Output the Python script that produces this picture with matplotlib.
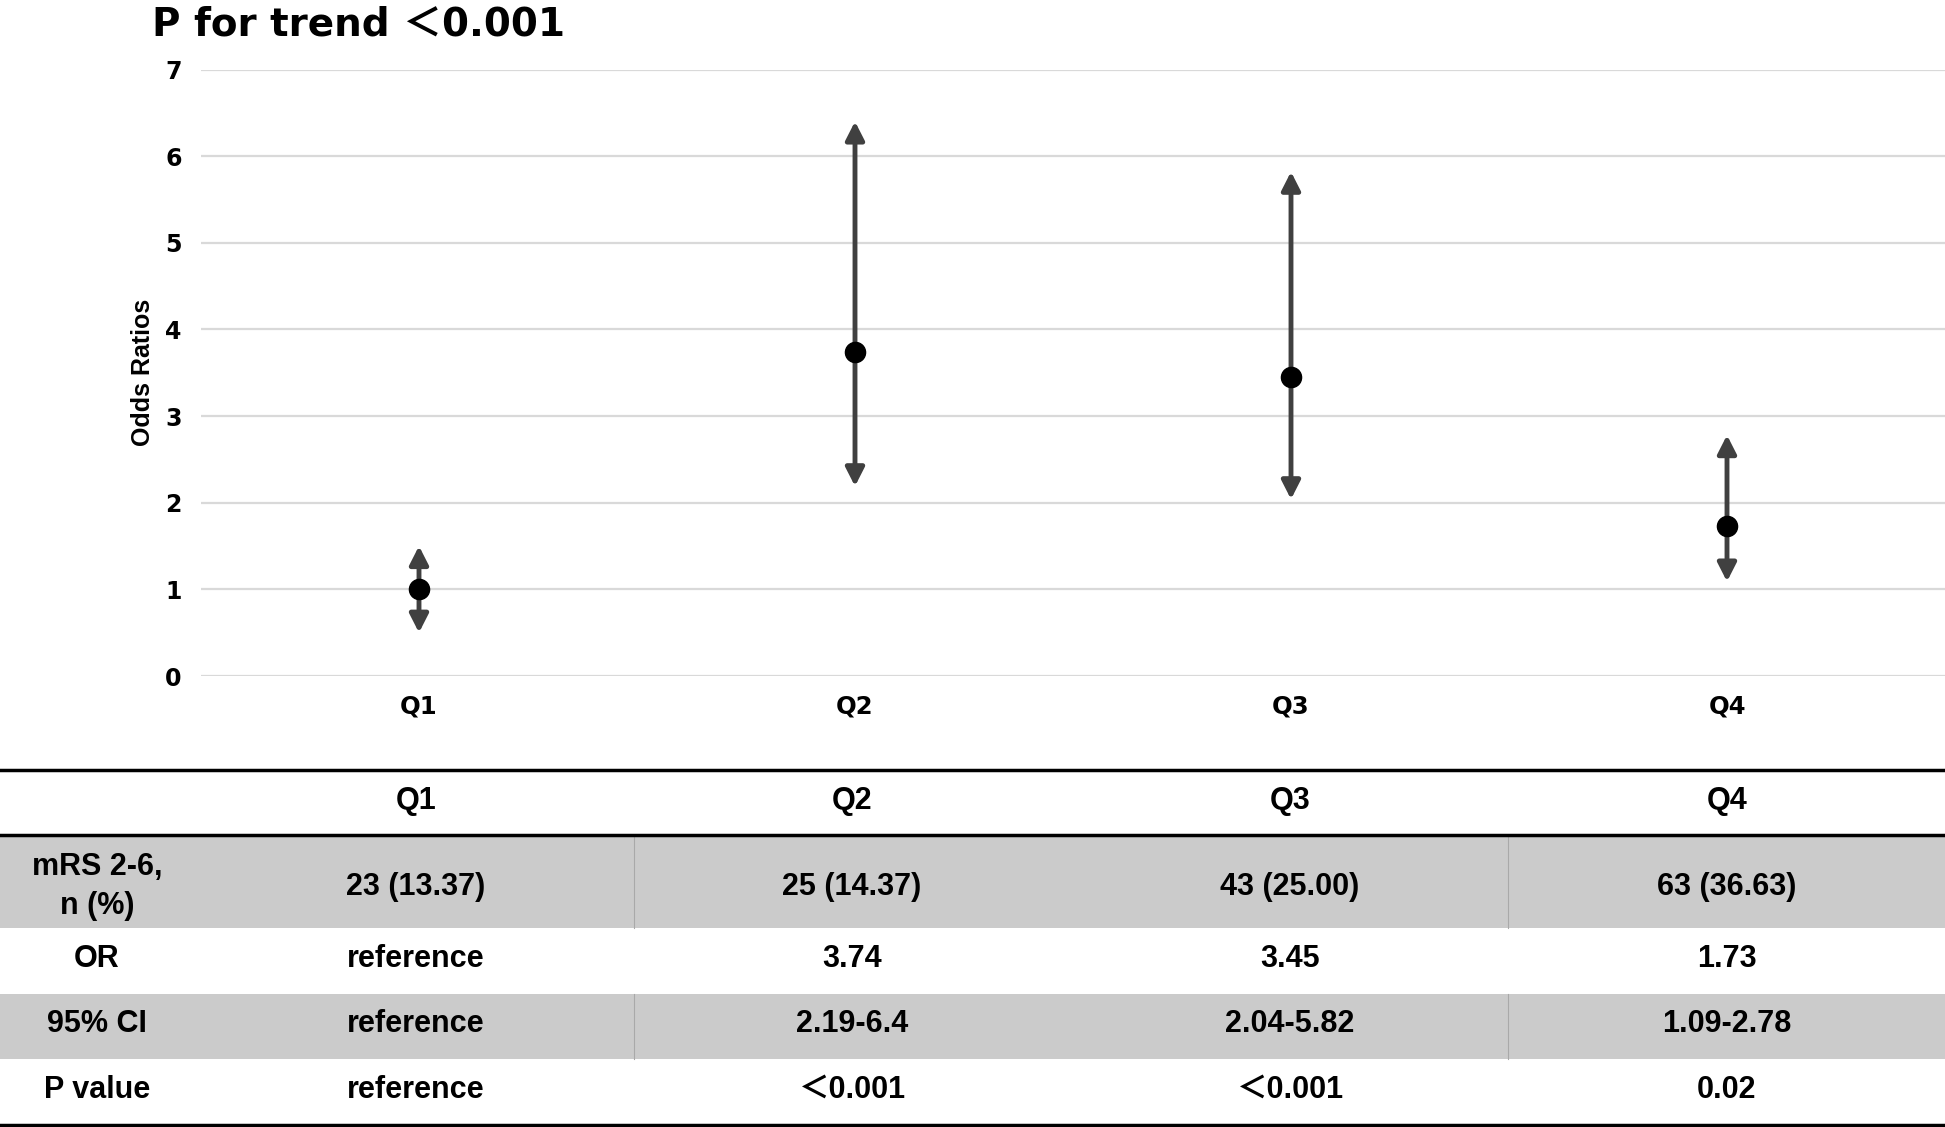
import matplotlib

matplotlib.use("Agg")
import matplotlib.pyplot as plt
from matplotlib.patches import Rectangle

# --- data ---
quartiles = ["Q1", "Q2", "Q3", "Q4"]
or_vals = [1.0, 3.74, 3.45, 1.73]
ci_low = [0.5, 2.19, 2.04, 1.09]
ci_high = [1.5, 6.4, 5.82, 2.78]

row_labels = ["mRS 2-6,\nn (%)", "OR", "95% CI", "P value"]
mrs_n = ["23 (13.37)", "25 (14.37)", "43 (25.00)", "63 (36.63)"]
or_text = ["reference", "3.74", "3.45", "1.73"]
ci_text = ["reference", "2.19-6.4", "2.04-5.82", "1.09-2.78"]
p_text = ["reference", "＜0.001", "＜0.001", "0.02"]

W, H = 1945, 1127
plt.rcParams["font.family"] = ["DejaVu Sans", "Noto Sans CJK SC"]
ARIAL = ["Liberation Sans", "Noto Sans CJK SC", "DejaVu Sans"]

fig = plt.figure(figsize=(W / 100, H / 100), dpi=100)
fig.patch.set_facecolor("white")

# --- OR plot ---
ax = fig.add_axes([201 / W, 1 - 676 / H, 1 - 201 / W, (676 - 69.5) / H])
x = list(range(1, len(quartiles) + 1))
for xi, o, lo, hi in zip(x, or_vals, ci_low, ci_high):
    for end in (lo, hi):
        ax.annotate(
            "",
            xy=(xi, end),
            xytext=(xi, o),
            arrowprops=dict(
                arrowstyle="-|>,head_length=0.55,head_width=0.28",
                color="#404040",
                lw=3.5,
                mutation_scale=20,
                shrinkA=0,
                shrinkB=0,
            ),
            zorder=3,
        )
ax.plot(x, or_vals, "o", color="black", markersize=14.5, linestyle="none", zorder=4)

ax.set_xlim(0.5, 4.5)
ax.set_ylim(0, 7)
ax.set_yticks(range(0, 8))
ax.set_xticks(x)
ax.set_xticklabels(quartiles, fontweight="bold", fontsize=17.5)
ax.set_yticklabels([str(v) for v in range(0, 8)], fontweight="bold", fontsize=17)
ax.grid(True, axis="y", color="#d9d9d9", linewidth=1.6)
ax.set_axisbelow(True)
for s in ax.spines.values():
    s.set_visible(False)
ax.tick_params(axis="y", length=0, pad=14)
ax.tick_params(axis="x", length=0, pad=13)
ax.set_ylabel("Odds Ratios", fontsize=18, fontweight="bold", family=ARIAL)
ax.yaxis.set_label_coords(-46 / 1744, 0.5)

fig.text(152 / W, 1 - 35 / H, "P for trend ＜0.001", fontsize=28, fontweight="bold",
         ha="left", va="baseline")

# --- table below ---
tax = fig.add_axes([0, 0, 1, 1 - 766 / H])
tax.set_xlim(0, W)
tax.set_ylim(H, 766)
tax.axis("off")

col_x = [97, 416, 852, 1290, 1727]
edges = [770, 835, 928, 994, 1059, 1125]
gray = "#cbcbcb"

for r in range(4):
    top, bot = edges[r + 1], edges[r + 2]
    if r % 2 == 0:
        tax.add_patch(Rectangle((0, top), W, bot - top, facecolor=gray, edgecolor="none"))
        for vx in (634, 1508):
            tax.plot([vx, vx], [top, bot], color="#a9a9a9", lw=0.8)

for yline in (edges[0], edges[1], edges[-1]):
    tax.axhline(yline, color="black", lw=2.5)

kw = dict(ha="center", va="center", fontsize=22, fontweight="bold", family=ARIAL)
hy = (edges[0] + edges[1]) / 2 - 2
for cx, q in zip(col_x[1:], quartiles):
    tax.text(cx, hy, q, **kw)

rows = [mrs_n, or_text, ci_text, p_text]
for r, (lab, vals) in enumerate(zip(row_labels, rows)):
    cy = (edges[r + 1] + edges[r + 2]) / 2 - 2
    if r == 0:
        cy += 7
    tax.text(col_x[0], cy, lab, linespacing=1.4, **kw)
    for cx, v in zip(col_x[1:], vals):
        tax.text(cx, cy, v, **kw)

fig.savefig("out.png", dpi=100, facecolor="white")
